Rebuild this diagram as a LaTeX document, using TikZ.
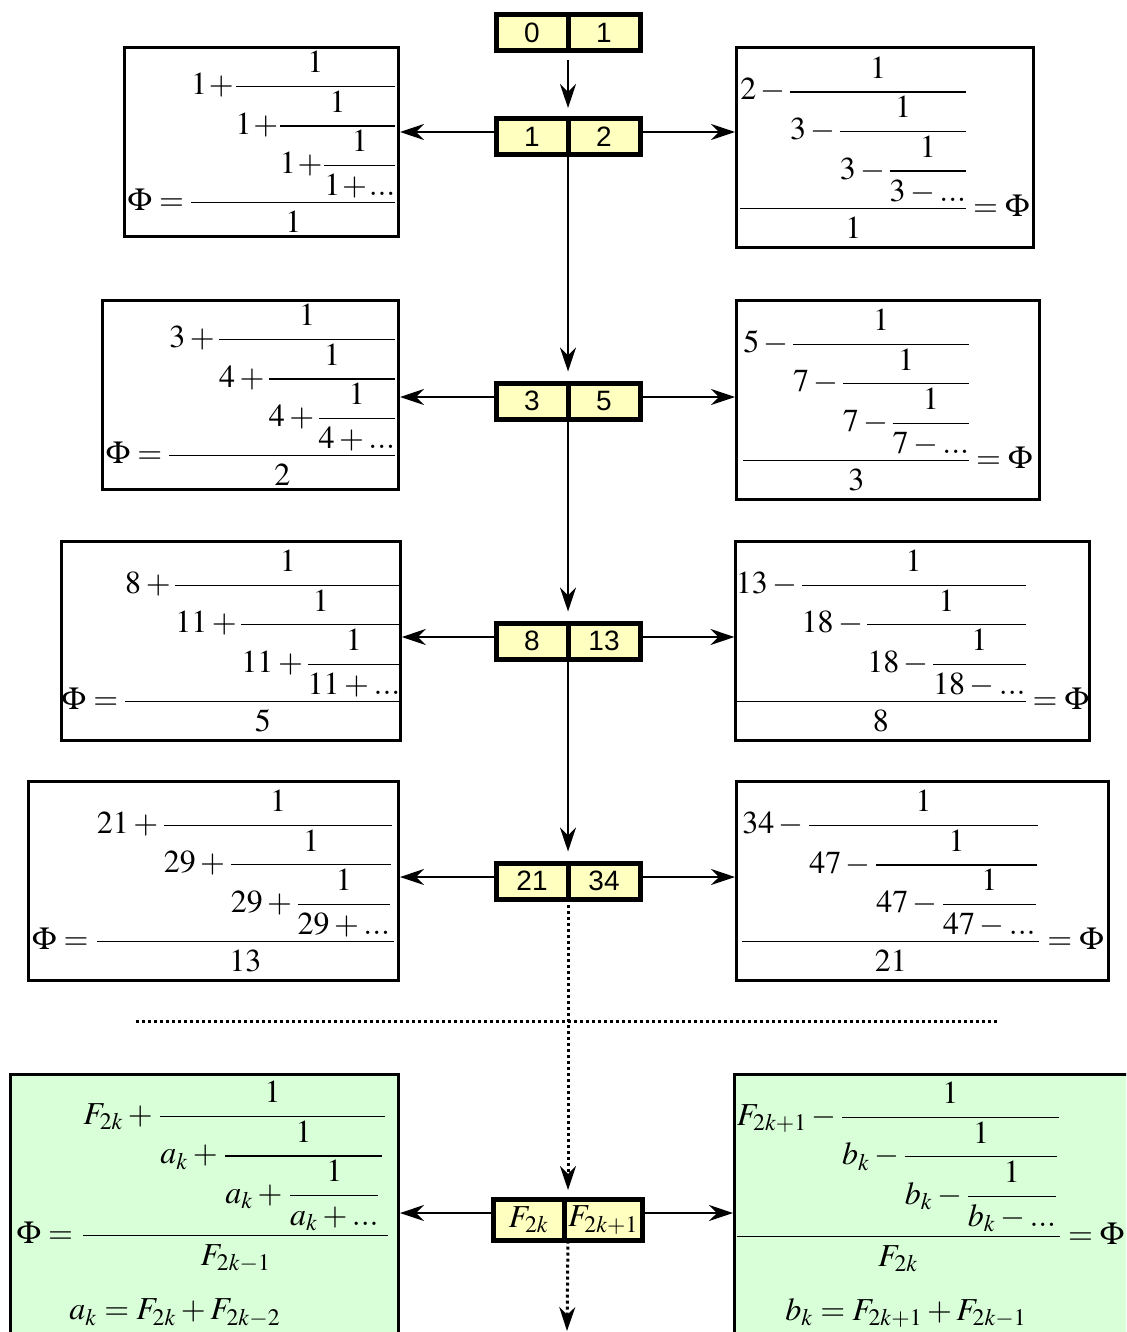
\documentclass[tikz,border=0pt]{standalone}
\usepackage{amsmath}
\usepackage{mathptmx}
\usepackage[no-math]{fontspec}
\newfontfamily\arialfont{Liberation Sans}
\usetikzlibrary{arrows.meta}
\definecolor{cellyellow}{RGB}{255,255,192}
\definecolor{boxgreen}{RGB}{217,255,217}
\begin{document}
\begin{tikzpicture}[x=0.5pt,y=-0.5pt,
  cell/.style={draw, line width=2.5pt, fill=cellyellow, minimum width=36pt, minimum height=18pt, inner sep=0pt, outer sep=0pt, font=\arialfont\fontsize{14}{16}\selectfont},
  fcell/.style={cell, minimum height=20.5pt, font=\fontsize{16}{19}\selectfont},
  frame/.style={draw, line width=1.5pt, inner sep=0pt, font=\fontsize{16}{19}\selectfont},
  gframe/.style={frame, fill=boxgreen},
  tip/.style={-{Stealth[length=12pt,width=8pt,inset=4pt]}},
  conn/.style={line width=1pt, tip},
  dline/.style={line width=1.5pt, dash pattern=on 1.5pt off 1.5pt},
  dconn/.style={dline, tip},
  tx/.style={inner sep=0pt, font=\fontsize{16}{19}\selectfont}]

\useasboundingbox (0,0) rectangle (1126,1332);
\clip (0,0) rectangle (1126,1332);

% centre pairs
\node[cell,anchor=east] (p0a) at (568,33) {0};
\node[cell,anchor=west] (p0b) at (568,33) {1};
\node[cell,anchor=east] (p1a) at (568,136.5) {1};
\node[cell,anchor=west] (p1b) at (568,136.5) {2};
\node[cell,anchor=east] (p2a) at (568,401) {3};
\node[cell,anchor=west] (p2b) at (568,401) {5};
\node[cell,anchor=east] (p3a) at (568,641) {8};
\node[cell,anchor=west] (p3b) at (568,641) {13};
\node[cell,anchor=east] (p4a) at (568,881) {21};
\node[cell,anchor=west] (p4b) at (568,881) {34};
\node[fcell,anchor=east,minimum width=35.25pt] (pFa) at (564,1220) {$F_{2k}$};
\node[fcell,anchor=west,minimum width=39.25pt] (pFb) at (564,1220) {$F_{2k+1}$};

% left frames
\node[frame, minimum width=137pt, minimum height=94.5pt] (L1) at (261.5,142)
 {$\medmuskip=1mu\nulldelimiterspace=0pt\displaystyle\Phi=\dfrac{1+\dfrac{1}{1+\dfrac{1}{1+\dfrac{1}{1+...}}}}{1}$};
\node[frame, minimum width=148pt, minimum height=94.5pt] (L2) at (250.5,395)
 {$\nulldelimiterspace=0pt\displaystyle\Phi=\dfrac{3+\dfrac{1}{4+\dfrac{1}{4+\dfrac{1}{4+...}}}}{2}$};
\node[frame, minimum width=168.5pt, minimum height=99.5pt] (L3) at (231,641)
 {$\medmuskip=2.6mu\nulldelimiterspace=0pt\displaystyle\Phi=\dfrac{8+\dfrac{1}{11+\dfrac{1}{11+\dfrac{1}{11+...}}}}{5}$};
\node[frame, minimum width=185pt, minimum height=99.5pt] (L4) at (213.5,881)
 {$\nulldelimiterspace=0.6pt\displaystyle\Phi=\dfrac{21+\dfrac{1}{29+\dfrac{1}{29+\dfrac{1}{29+...}}}}{13}$};

% right frames
\node[frame, minimum width=148.5pt, minimum height=100pt] (R1) at (885,147.5)
 {$\nulldelimiterspace=0pt\displaystyle\dfrac{2-\dfrac{1}{3-\dfrac{1}{3-\dfrac{1}{3-...}}}}{1}=\Phi$};
\node[frame, minimum width=151.5pt, minimum height=99.5pt] (R2) at (888,400)
 {$\nulldelimiterspace=0pt\displaystyle\dfrac{5-\dfrac{1}{7-\dfrac{1}{7-\dfrac{1}{7-...}}}}{3}=\Phi$};
\node[frame, minimum width=176pt, minimum height=99.5pt] (R3) at (912.5,641)
 {$\nulldelimiterspace=0pt\displaystyle\dfrac{13-\dfrac{1}{18-\dfrac{1}{18-\dfrac{1}{18-...}}}}{8}=\Phi$};
\node[frame, minimum width=186pt, minimum height=99.5pt] (R4) at (922.5,881)
 {$\nulldelimiterspace=0.6pt\displaystyle\dfrac{34-\dfrac{1}{47-\dfrac{1}{47-\dfrac{1}{47-...}}}}{21}=\Phi$};

% green frames
\node[gframe, anchor=north west, minimum width=194pt, minimum height=140pt] (GL) at (9,1073) {};
\node[gframe, anchor=north west, minimum width=210pt, minimum height=140pt] (GR) at (733,1073) {};
\node[tx] (GLf) at (204,1177)
 {$\nulldelimiterspace=1.6pt\displaystyle\Phi=\dfrac{F_{2k}+\dfrac{1}{a_k+\dfrac{1}{a_k+\dfrac{1}{a_k+...}}}}{F_{2k-1}}$};
\node[tx] (GLa) at (175,1313) {$a_k=F_{2k}+F_{2k-2}$};
\node[tx] (GRf) at (930,1177)
 {$\nulldelimiterspace=0.6pt\displaystyle\dfrac{F_{2k+1}-\dfrac{1}{b_k-\dfrac{1}{b_k-\dfrac{1}{b_k-...}}}}{F_{2k}}=\Phi$};
\node[tx] (GRb) at (906,1313) {$b_k=F_{2k+1}+F_{2k-1}$};

% vertical connectors
\draw[conn, shorten <=4.75pt, shorten >=5.25pt] (p0a.south east) -- (p1a.north east);
\draw[conn, shorten >=5.75pt] (p1a.south east) -- (p2a.north east);
\draw[conn, shorten >=5.75pt] (p2a.south east) -- (p3a.north east);
\draw[conn, shorten >=5.75pt] (p3a.south east) -- (p4a.north east);
\draw[dconn, shorten >=4.75pt] (p4a.south east) -- (pFa.north -| p4a.south east);
\coordinate (bot) at (567,1331);
\draw[dconn] (pFa.south -| p4a.south east) -- (bot);

% dotted separator
\coordinate (dl) at (136,1021);
\coordinate (dr) at (1000,1021);
\draw[dline] (dl) -- (dr);

% horizontal connectors
\draw[conn] ([yshift=2.25pt]p1a.west) -- ([yshift=2.25pt]p1a.west -| L1.east);
\draw[conn] ([yshift=2.25pt]p1b.east) -- ([yshift=2.25pt]p1b.east -| R1.west);
\draw[conn] ([yshift=2pt]p2a.west) -- ([yshift=2pt]p2a.west -| L2.east);
\draw[conn] ([yshift=2pt]p2b.east) -- ([yshift=2pt]p2b.east -| R2.west);
\draw[conn] ([yshift=2pt]p3a.west) -- ([yshift=2pt]p3a.west -| L3.east);
\draw[conn] ([yshift=2pt]p3b.east) -- ([yshift=2pt]p3b.east -| R3.west);
\draw[conn] ([yshift=2pt]p4a.west) -- ([yshift=2pt]p4a.west -| L4.east);
\draw[conn] ([yshift=2pt]p4b.east) -- ([yshift=2pt]p4b.east -| R4.west);
\draw[conn] ([yshift=3.5pt]pFa.west) -- ([yshift=3.5pt]pFa.west -| GL.east);
\draw[conn] ([yshift=3.5pt]pFb.east) -- ([yshift=3.5pt]pFb.east -| GR.west);
\end{tikzpicture}
\end{document}
